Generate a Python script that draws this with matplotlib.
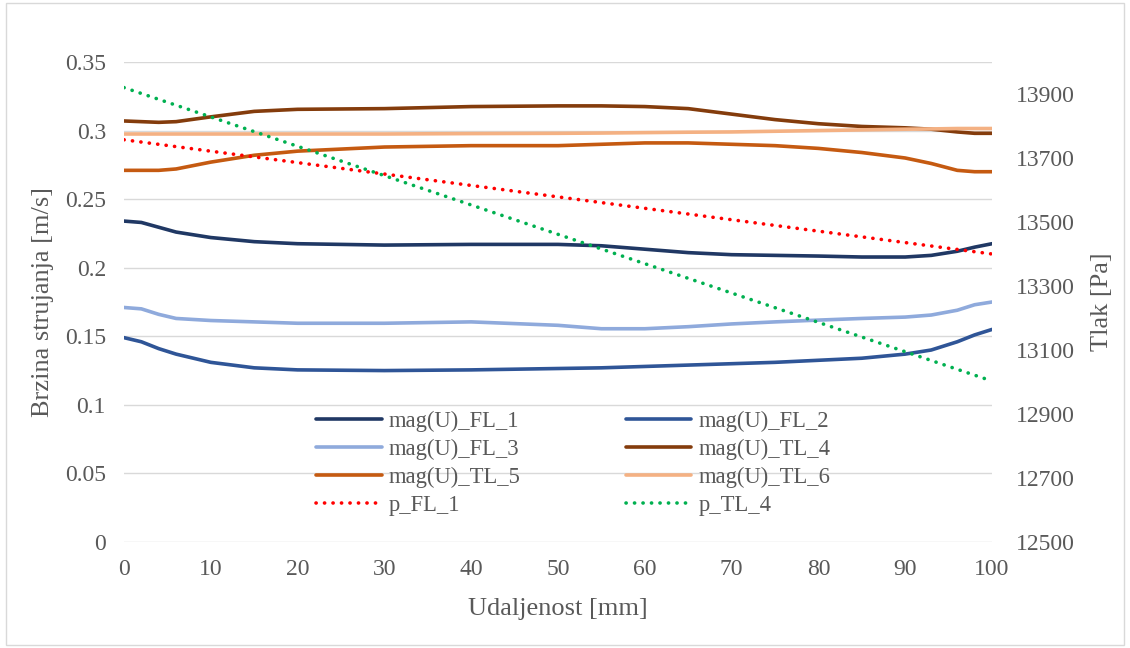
import matplotlib.pyplot as plt
from matplotlib.patches import Rectangle

plt.rcParams['font.family'] = ['Liberation Serif', 'DejaVu Serif']

# udaljenost [mm]
x = [0, 2, 4, 6, 10, 15, 20, 30, 40, 50, 55, 60, 65, 70, 75, 80, 85, 90, 93, 96, 98, 100]

fl_1 = [0.234, 0.233, 0.2295, 0.226, 0.222, 0.219, 0.2175, 0.2165, 0.217, 0.217, 0.216, 0.2135,
        0.211, 0.2095, 0.209, 0.2085, 0.2078, 0.2078, 0.209, 0.212, 0.215, 0.2175]
fl_2 = [0.149, 0.146, 0.141, 0.137, 0.131, 0.127, 0.1255, 0.125, 0.1255, 0.1265, 0.127, 0.128,
        0.129, 0.13, 0.131, 0.1325, 0.134, 0.137, 0.14, 0.146, 0.151, 0.155]
fl_3 = [0.171, 0.170, 0.166, 0.163, 0.1615, 0.1605, 0.1595, 0.1595, 0.1605, 0.158, 0.1555, 0.1555,
        0.157, 0.159, 0.1605, 0.1618, 0.163, 0.164, 0.1655, 0.169, 0.173, 0.175]
tl_4 = [0.307, 0.3065, 0.306, 0.3065, 0.310, 0.314, 0.3155, 0.316, 0.3175, 0.318, 0.318, 0.3175,
        0.316, 0.312, 0.308, 0.305, 0.303, 0.302, 0.301, 0.299, 0.298, 0.298]
tl_5 = [0.271, 0.271, 0.271, 0.272, 0.277, 0.282, 0.285, 0.288, 0.289, 0.289, 0.290, 0.291,
        0.291, 0.290, 0.289, 0.287, 0.284, 0.280, 0.276, 0.271, 0.270, 0.270]
tl_6 = [0.2975, 0.2975, 0.2975, 0.2975, 0.2975, 0.2975, 0.2975, 0.2975, 0.2978, 0.298, 0.2982, 0.2985,
        0.2988, 0.299, 0.2995, 0.300, 0.3005, 0.301, 0.3012, 0.3015, 0.3015, 0.3015]

# tlak [Pa]
x_p = [0, 100]
p_fl_1 = [13757, 13400]
p_tl_4 = [13920, 13003]

vel_series = [
    ('mag(U)_FL_1', fl_1, '#203864'),
    ('mag(U)_FL_2', fl_2, '#2F5597'),
    ('mag(U)_FL_3', fl_3, '#8FAADC'),
    ('mag(U)_TL_4', tl_4, '#843C0C'),
    ('mag(U)_TL_5', tl_5, '#C55A11'),
    ('mag(U)_TL_6', tl_6, '#F4B183'),
]

txt = '#595959'
fig = plt.figure(figsize=(11.3, 6.48), dpi=100)
fig.patches.append(Rectangle((0.005, 0.004), 0.99, 0.992, transform=fig.transFigure,
                             fill=False, edgecolor='#D9D9D9', linewidth=1))
ax = fig.add_axes([124 / 1130, 1 - 542 / 648, 868 / 1130, 480 / 648])
ax2 = ax.twinx()

handles = []
for name, vals, c in vel_series:
    h, = ax.plot(x, vals, color=c, lw=2.6, label=name, solid_capstyle='round')
    handles.append(h)
h1, = ax2.plot(x_p, p_fl_1, color='#FF0000', lw=2.6, ls=(0, (0.05, 2.3)),
               dash_capstyle='round', label='p_FL_1')
h2, = ax2.plot(x_p, p_tl_4, color='#00B050', lw=2.6, ls=(0, (0.05, 2.3)),
               dash_capstyle='round', label='p_TL_4')
handles += [h1, h2]

ax.set_xlim(0, 100)
ax.set_ylim(0, 0.35)
ax.set_xticks(range(0, 101, 10))
ax.set_yticks([0, 0.05, 0.1, 0.15, 0.2, 0.25, 0.3, 0.35])
ax.set_yticklabels(['0', '0.05', '0.1', '0.15', '0.2', '0.25', '0.3', '0.35'])
ax.grid(axis='y', color='#D9D9D9', lw=1)
ax.set_axisbelow(True)
ax2.set_ylim(12500, 14000)
ax2.set_yticks(range(12500, 14000, 200))

for a in (ax, ax2):
    for s in a.spines.values():
        s.set_visible(False)
    a.tick_params(length=0, labelsize=17, colors=txt)
ax.tick_params(axis='y', pad=13)
ax.tick_params(axis='x', pad=12)
ax2.tick_params(axis='y', pad=17)

ax.set_xlabel('Udaljenost [mm]', fontsize=19, color=txt, labelpad=13)
ax.set_ylabel('Brzina strujanja [m/s]', fontsize=19, color=txt, labelpad=8)
ax2.set_ylabel('Tlak [Pa]', fontsize=19, color=txt, labelpad=12)

# legend ordered row by row, as in the original
row_handles = [handles[i] for i in (0, 2, 4, 6, 1, 3, 5, 7)]
leg = ax.legend(handles=row_handles, ncol=2, loc='lower left', bbox_to_anchor=(0.198, 0.012),
                frameon=False, fontsize=16.3, handlelength=2.9, handletextpad=0.3,
                columnspacing=4.65, labelspacing=0.3, labelcolor=txt)

fig.savefig('out.png', dpi=100)
